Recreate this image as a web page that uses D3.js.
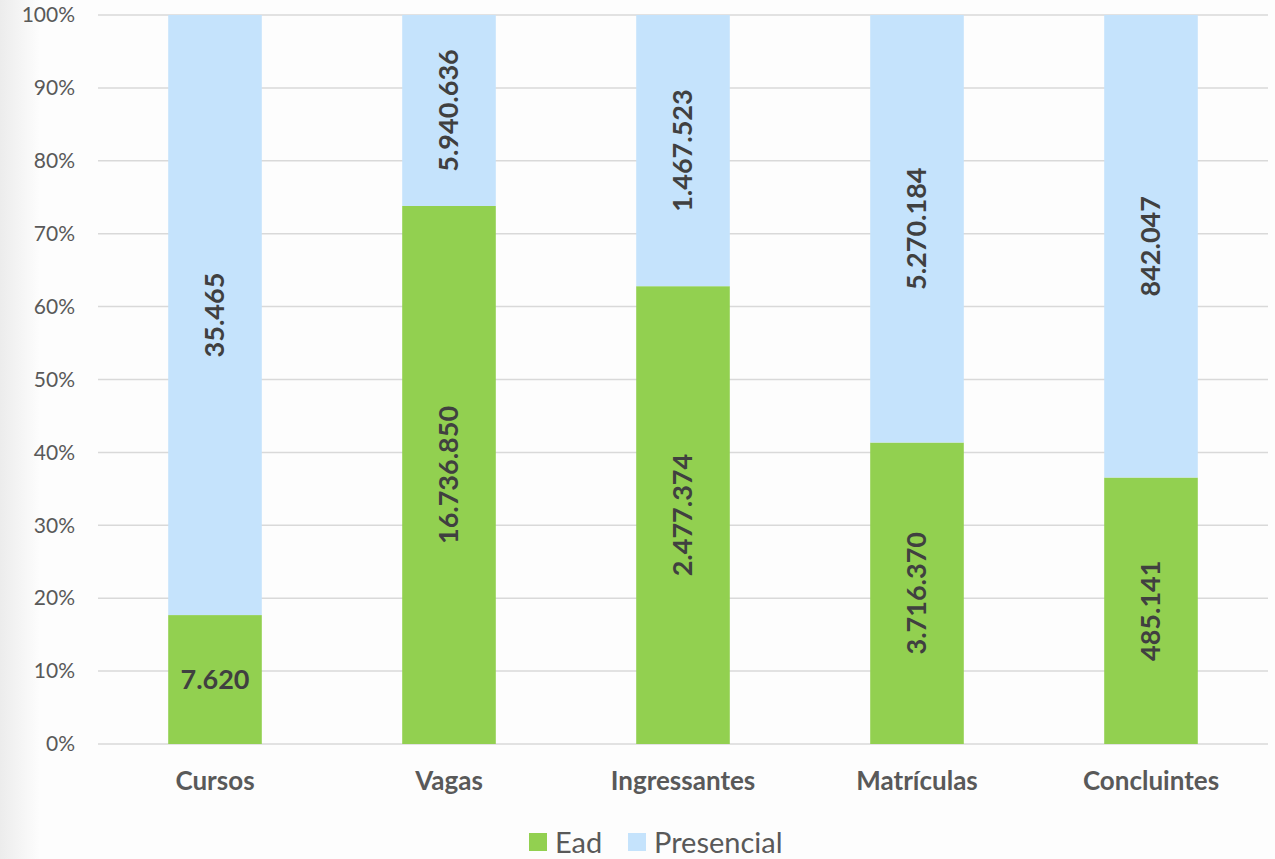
<!DOCTYPE html>
<html><head><meta charset="utf-8">
<script src="https://cdn.jsdelivr.net/npm/d3@7"></script>
<style>html,body{margin:0;padding:0;background:#fff;}svg{display:block;}</style>
</head><body>
<svg id="c" width="1275" height="859"></svg>
<script>
const categories = ["Cursos","Vagas","Ingressantes","Matrículas","Concluintes"];
const ead = [7620, 16736850, 2477374, 3716370, 485141];
const presencial = [35465, 5940636, 1467523, 5270184, 842047];
const seriesNames = ["Ead","Presencial"];
const yTicks = [0,0.1,0.2,0.3,0.4,0.5,0.6,0.7,0.8,0.9,1];

const colors = {Ead:"#92D050", Presencial:"#C5E3FC"};
const W = 1275, H = 859;
const m = {l:98, r:7, t:15, b:115};
const svg = d3.select("#c");
const font = "Lato, 'Open Sans', sans-serif";

// background
const bg = svg.append("g");
bg.append("rect").attr("width",W).attr("height",H).attr("fill","#fdfdfd");
const grad = svg.append("defs").append("linearGradient").attr("id","lg");
grad.append("stop").attr("offset","0").attr("stop-color","#ececec");
grad.append("stop").attr("offset","1").attr("stop-color","#fdfdfd");
bg.append("rect").attr("width",40).attr("height",H).attr("fill","url(#lg)");

const x = d3.scaleBand().domain(categories).range([m.l, W-m.r]).paddingInner(0.6).paddingOuter(0.3);
const y = d3.scaleLinear().domain([0,1]).range([H-m.b, m.t]);

const data = categories.map((c,i)=>{const t=ead[i]+presencial[i];return {cat:c, Ead:ead[i]/t, Presencial:presencial[i]/t, raw:{Ead:ead[i],Presencial:presencial[i]}};});
const stack = d3.stack().keys(seriesNames)(data);

// grid
svg.append("g").selectAll("line").data(yTicks).join("line")
  .attr("x1",m.l).attr("x2",W-m.r).attr("y1",d=>y(d)).attr("y2",d=>y(d))
  .attr("stroke","#d9d9d9").attr("stroke-width",1.5);

// y axis labels
const yAxis = d3.axisLeft(y).tickValues(yTicks).tickFormat(d3.format(".0%")).tickSize(0).tickPadding(23);
const ya = svg.append("g").attr("transform",`translate(${m.l},0)`).call(yAxis);
ya.select(".domain").remove();
ya.selectAll("text").attr("font-family",font).attr("font-size",21).attr("fill","#595959");

const fmt = v => d3.format(",")(v).replace(/,/g,".");

// bars
stack.forEach(s=>{
  const g = svg.append("g");
  g.selectAll("rect").data(s).join("rect")
    .attr("x",d=>x(d.data.cat)).attr("width",x.bandwidth())
    .attr("y",d=>y(d[1])).attr("height",d=>y(d[0])-y(d[1]))
    .attr("fill",colors[s.key]);
  g.selectAll("text").data(s).join("text")
    .attr("transform",(d)=>{
      const cx = x(d.data.cat)+x.bandwidth()/2, cy=(y(d[0])+y(d[1]))/2;
      const horiz = d.data.cat==="Cursos" && s.key==="Ead";
      return `translate(${cx},${cy})` + (horiz?"":" rotate(-90)");
    })
    .attr("text-anchor","middle").attr("dy","0.35em")
    .attr("font-family",font).attr("font-weight","bold").attr("font-size",27).attr("fill","#404040")
    .text(d=>fmt(d.data.raw[s.key]));
});

// x axis labels
const xAxis = d3.axisBottom(x).tickSize(0).tickPadding(28);
const xa = svg.append("g").attr("transform",`translate(0,${y(0)})`).call(xAxis);
xa.select(".domain").remove();
xa.selectAll("text").attr("font-family",font).attr("font-weight","bold").attr("font-size",26).attr("fill","#595959");

// legend
const leg = svg.append("g");
const items = [{k:"Ead",x:529},{k:"Presencial",x:628}];
items.forEach(it=>{
  leg.append("rect").attr("x",it.x).attr("y",833).attr("width",18).attr("height",18).attr("fill",colors[it.k]);
  leg.append("text").attr("x",it.x+26).attr("y",853).attr("font-family",font).attr("font-size",29).attr("fill","#595959").text(it.k);
});
</script>
</body></html>
